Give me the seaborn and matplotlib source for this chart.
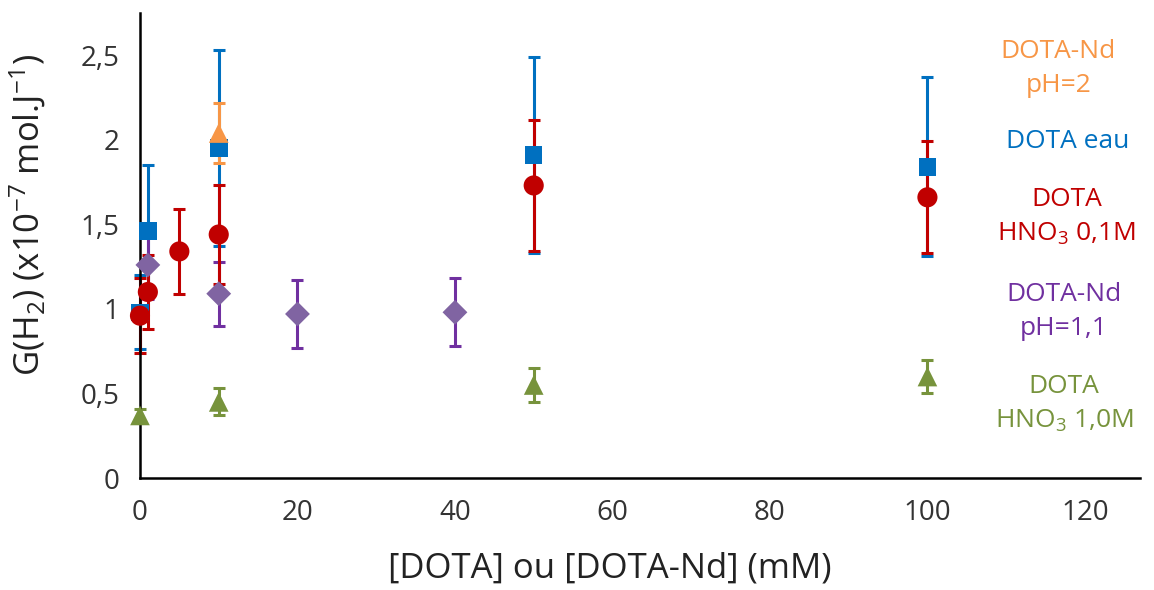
import numpy as np
import pandas as pd
import matplotlib
matplotlib.use("Agg")
import matplotlib.pyplot as plt
import seaborn as sns

# Données
conc_nd_2 = [10]
g_nd_2 = [2.04]
err_nd_2 = [0.18]

conc_eau = [0, 1, 10, 50, 100]
g_eau = [0.98, 1.46, 1.95, 1.91, 1.84]
err_eau = [0.22, 0.39, 0.58, 0.58, 0.53]

conc_hno3_01 = [0, 1, 5, 10, 50, 100]
g_hno3_01 = [0.96, 1.10, 1.34, 1.44, 1.73, 1.66]
err_hno3_01 = [0.22, 0.22, 0.25, 0.29, 0.39, 0.33]

conc_nd_11 = [1, 10, 20, 40]
g_nd_11 = [1.26, 1.09, 0.97, 0.98]
err_nd_11 = [0.20, 0.19, 0.20, 0.20]

conc_hno3_1 = [0, 10, 50, 100]
g_hno3_1 = [0.37, 0.45, 0.55, 0.60]
err_hno3_1 = [0.04, 0.08, 0.10, 0.10]

labels = ["DOTA-Nd\npH=2", "DOTA eau", "DOTA\nHNO$_3$ 0,1M", "DOTA-Nd\npH=1,1", "DOTA\nHNO$_3$ 1,0M"]
y_ticks = [0, 0.5, 1, 1.5, 2, 2.5]
y_tick_labels = ["0", "0,5", "1", "1,5", "2", "2,5"]
x_ticks = [0, 20, 40, 60, 80, 100, 120]

# Configurations
sns.set_style("white")
plt.rcParams['font.family'] = ['Open Sans', 'DejaVu Sans']
plt.rcParams['mathtext.fontset'] = 'custom'
plt.rcParams['mathtext.rm'] = 'Open Sans'
plt.rcParams['mathtext.it'] = 'Open Sans:italic'

# (x, y, erreur, couleur marqueur, couleur barre, marqueur, taille)
series = [
    (conc_eau, g_eau, err_eau, '#0070C0', '#0070C0', 's', 160),
    (conc_nd_11, g_nd_11, err_nd_11, '#8064A2', '#7030A0', 'D', 160),
    (conc_hno3_01, g_hno3_01, err_hno3_01, '#C00000', '#C00000', 'o', 210),
    (conc_hno3_1, g_hno3_1, err_hno3_1, '#77933C', '#77933C', '^', 200),
    (conc_nd_2, g_nd_2, err_nd_2, '#F79646', '#F79646', '^', 200),
]

fig = plt.figure(figsize=(11.54, 5.9), dpi=100)
ax = fig.add_axes([0.1213, 0.1898, 0.8666, 0.7882])

for x, y, e, c, ce, m, s in series:
    df = pd.DataFrame({'conc': x, 'g': y})
    ax.errorbar(x, y, yerr=e, fmt='none', ecolor=ce, elinewidth=2.2,
                capsize=4.5, capthick=2.2, clip_on=False, zorder=2)
    sns.scatterplot(data=df, x='conc', y='g', marker=m, color=c, s=s,
                    edgecolor='none', ax=ax, clip_on=False, zorder=3)

ax.set_xlim(0, 127)
ax.set_ylim(0, 2.75)
ax.set_xticks(x_ticks)
ax.set_yticks(y_ticks)
ax.set_yticklabels(y_tick_labels)
ax.tick_params(axis='both', labelsize=20, direction='out', length=7,
               width=1.8, color='black', labelcolor='#333333', pad=8)
for side in ['top', 'right']:
    ax.spines[side].set_visible(False)
for side in ['left', 'bottom']:
    ax.spines[side].set_linewidth(1.8)
    ax.spines[side].set_color('black')

ax.set_xlabel('[DOTA] ou [DOTA-Nd] (mM)', fontsize=25, color='#222222')
ax.set_ylabel('G(H$_2$) (x10$^{-7}$ mol.J$^{-1}$)', fontsize=25, color='#222222')
ax.xaxis.set_label_coords(0.47, -0.158)
ax.yaxis.set_label_coords(-0.092, 0.566)

# Légende en texte coloré
label_colors = ['#F79646', '#0070C0', '#C00000', '#7030A0', '#77933C']
label_x = [0.917, 0.925, 0.924, 0.922, 0.922]
label_y = [68.5, 142, 217, 311.5, 404]
for i, lab in enumerate(labels):
    fig.text(label_x[i], 1 - label_y[i] / 590, lab, color=label_colors[i], fontsize=19,
             ha='center', va='center', multialignment='center', linespacing=1.45)

plt.savefig('out.png', dpi=100)
plt.close()
